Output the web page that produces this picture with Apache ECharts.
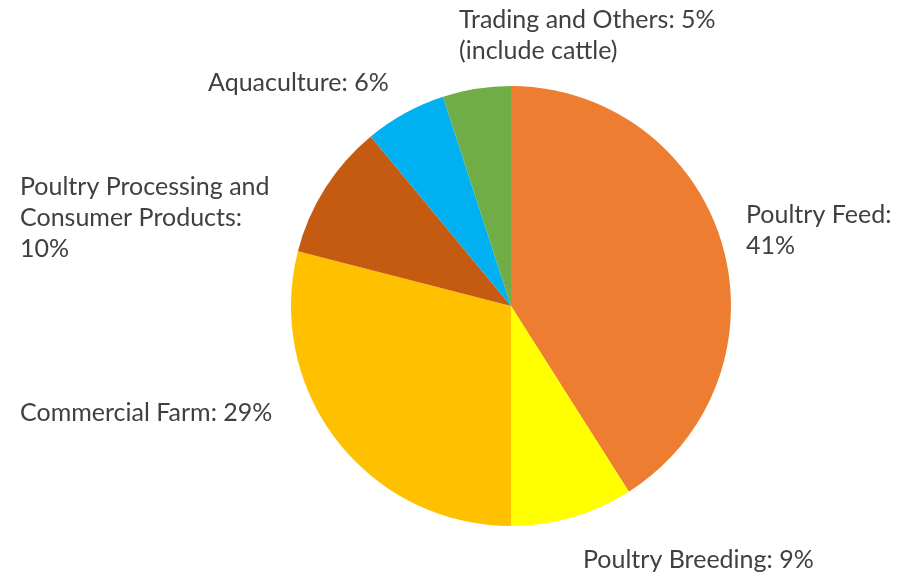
<!DOCTYPE html>
<html>
<head>
<meta charset="utf-8">
<style>
  html, body { margin: 0; padding: 0; background: #ffffff; }
  #chart { width: 906px; height: 573px; }
</style>
<script src="https://cdn.jsdelivr.net/npm/echarts@6/dist/echarts.min.js"></script>
</head>
<body>
<div id="chart"></div>
<script>
// Revenue share by business segment (percent), clockwise from 12 o'clock
const categories = [
  'Poultry Feed',
  'Poultry Breeding',
  'Commercial Farm',
  'Poultry Processing and Consumer Products',
  'Aquaculture',
  'Trading and Others'
];
const shares = [41, 9, 29, 10, 6, 5];
const notes = ['', '', '', '', '', '(include cattle)'];
const colors = ['#ED7D31', '#FFFF00', '#FFC000', '#C55A11', '#00B0F0', '#70AD47'];

// Label text per segment: name, value and optional note, with line breaks
function labelText(i) {
  const v = shares[i] + '%';
  switch (i) {
    case 0: return categories[i] + ':\n' + v;
    case 3: return 'Poultry Processing and\nConsumer Products:\n' + v;
    case 5: return categories[i] + ': ' + v + '\n' + notes[i];
    default: return categories[i] + ': ' + v;
  }
}

// Anchor of each label block (left edge, vertical middle)
const labelAnchors = [
  [746, 230], [583, 560], [20, 413], [20, 218], [208, 83], [459, 35]
];

const chart = echarts.init(document.getElementById('chart'), null, { renderer: 'canvas' });
chart.setOption({
  animation: false,
  backgroundColor: '#ffffff',
  series: [{
    type: 'pie',
    center: [511, 306],
    radius: 220,
    startAngle: 90,
    clockwise: true,
    avoidLabelOverlap: false,
    itemStyle: { borderWidth: 0 },
    label: {
      show: true,
      position: 'outside',
      formatter: (p) => labelText(p.dataIndex),
      color: '#404040',
      fontFamily: 'Lato',
      fontSize: 25,
      lineHeight: 31,
      align: 'left'
    },
    labelLine: { show: false },
    labelLayout: (params) => {
      const a = labelAnchors[params.dataIndex];
      return { x: a[0], y: a[1], align: 'left', verticalAlign: 'middle' };
    },
    emphasis: { disabled: true },
    data: categories.map((name, i) => ({
      name: name,
      value: shares[i],
      itemStyle: { color: colors[i] }
    }))
  }]
});
</script>
</body>
</html>
